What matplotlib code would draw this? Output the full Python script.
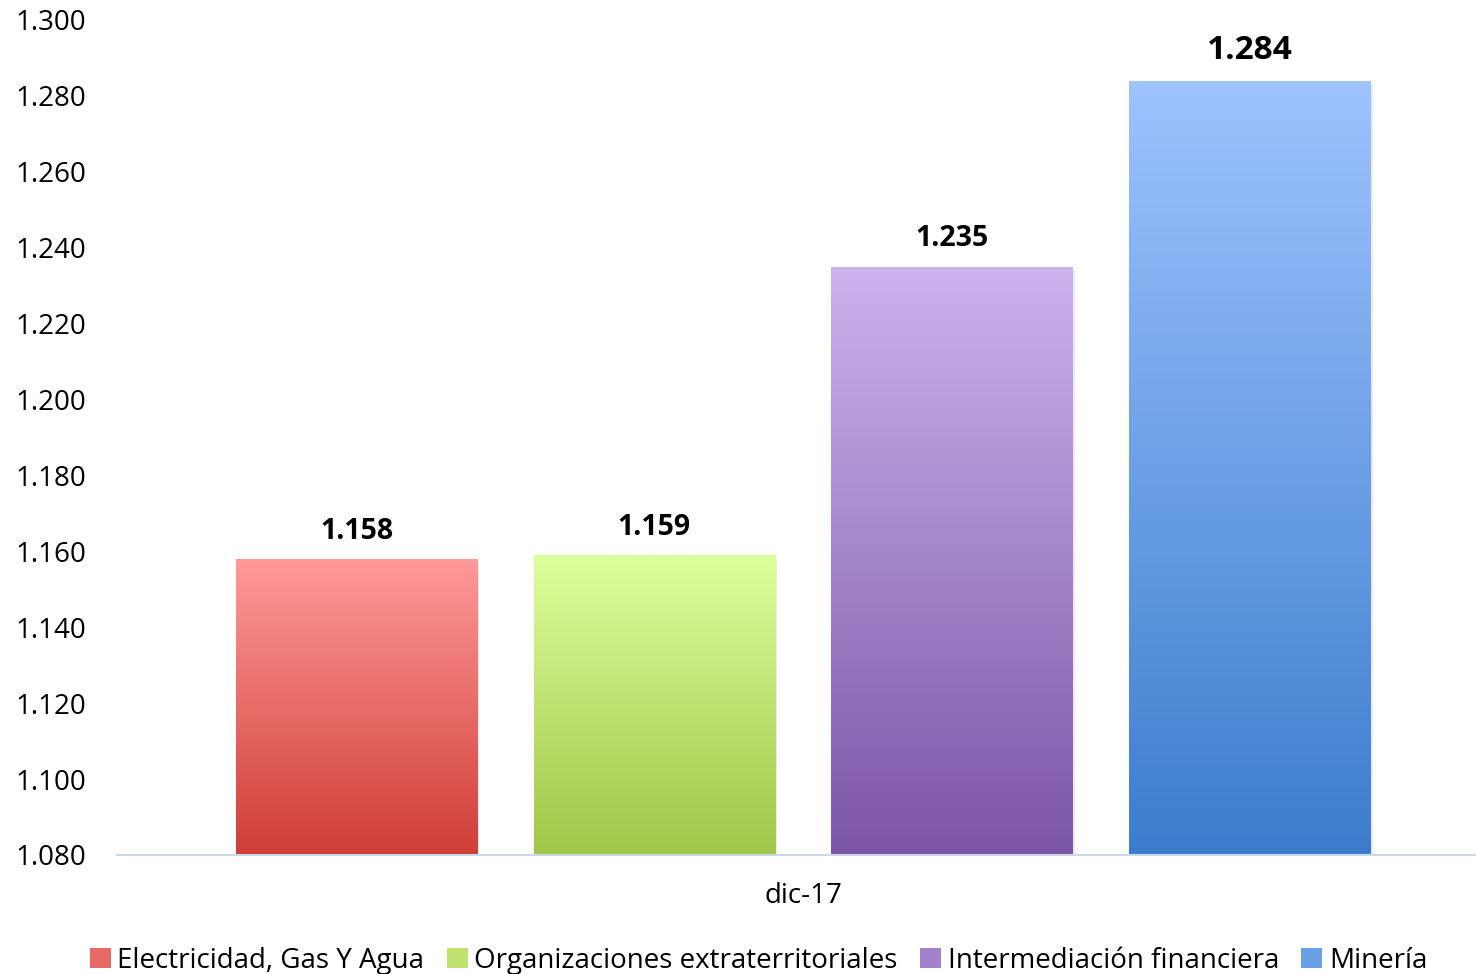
import matplotlib
matplotlib.use("Agg")
import matplotlib.pyplot as plt
import numpy as np
from matplotlib.colors import LinearSegmentedColormap
from matplotlib.patches import Patch

plt.rcParams["font.family"] = ["Open Sans", "DejaVu Sans"]

categoria = "dic-17"
sectores = ["Electricidad, Gas Y Agua", "Organizaciones extraterritoriales",
            "Intermediación financiera", "Minería"]
valores = [1.158, 1.159, 1.235, 1.284]
etiquetas = ["1.158", "1.159", "1.235", "1.284"]
colores_arriba = ["#FF9A98", "#DDFF9C", "#CBB3EE", "#9EC3FF"]
colores_abajo = ["#D03E38", "#9FC748", "#7D55A7", "#3B7DCD"]
colores_medios = ["#E86A66", "#BFE170", "#A283CB", "#6A9FE6"]
tam_etiqueta = [20.5, 20.5, 20.5, 24]

ymin, ymax = 1.080, 1.300

fig = plt.figure(figsize=(14.76, 9.74), dpi=100)
ax = fig.add_axes([117 / 1476, 1 - 855 / 974, 1 - 117 / 1476, (855 - 20) / 974])

x = np.arange(len(valores))
ancho = 0.81
grad = np.linspace(0, 1, 256).reshape(-1, 1)

for i, v in enumerate(valores):
    # sombra ligera
    ax.bar(x[i] + 0.008, v - ymin, ancho, bottom=ymin - 0.0010,
           color="#000000", alpha=0.08, zorder=1, linewidth=0)
    barra = ax.bar(x[i], v - ymin, ancho, bottom=ymin, color="none",
                   linewidth=0, zorder=2)[0]
    cmap = LinearSegmentedColormap.from_list(
        f"g{i}", [colores_abajo[i], colores_arriba[i]])
    im = ax.imshow(grad, cmap=cmap, aspect="auto", origin="lower",
                   extent=[x[i] - ancho / 2, x[i] + ancho / 2, ymin, v],
                   zorder=2)
    im.set_clip_path(barra)
    ax.text(x[i], v + 0.0035, etiquetas[i], ha="center", va="bottom",
            fontsize=tam_etiqueta[i], fontweight="bold", color="black", zorder=3)

ax.set_xlim(-0.804, 3.759)
ax.set_ylim(ymin, ymax)
ticks = np.arange(1.080, 1.3001, 0.020)
ax.set_yticks(ticks)
ax.set_yticklabels([f"{t:.3f}" for t in ticks], fontsize=20)
ax.set_xticks([])
ax.tick_params(axis="y", length=0, pad=22)
for s in ["top", "right", "left"]:
    ax.spines[s].set_visible(False)
ax.spines["bottom"].set_color("#C9D9E8")
ax.spines["bottom"].set_linewidth(1.5)

fig.text(803 / 1476, 1 - 896 / 974, categoria, ha="center", va="center",
         fontsize=20)

handles = [Patch(facecolor=c, edgecolor="none") for c in colores_medios]
fig.legend(handles, sectores, loc="center", bbox_to_anchor=(0.514, 0.0135),
           ncol=4, frameon=False, fontsize=20, handlelength=0.75,
           handleheight=0.75, handletextpad=0.25, columnspacing=0.8)

fig.savefig("out.png", dpi=100)
